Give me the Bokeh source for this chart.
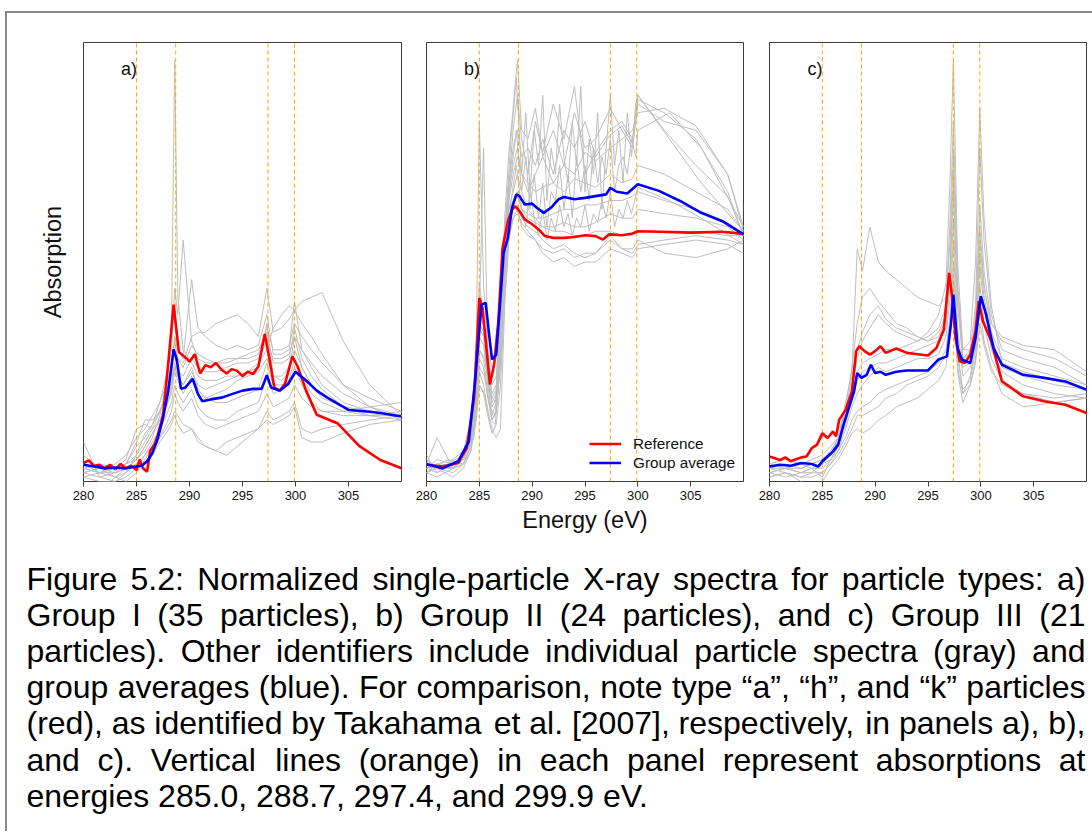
from bokeh.plotting import figure
from bokeh.layouts import row, column
from bokeh.models import Range1d, FixedTicker, Label, Legend, LegendItem, ColumnDataSource
from bokeh.embed import file_html
from bokeh.resources import INLINE
from bokeh.core.properties import value

FONT = "Liberation Sans"

# ---------------- texts / ticks ----------------
X_TICKS = [280, 285, 290, 295, 300, 305]
X_TICK_LABELS = ["280", "285", "290", "295", "300", "305"]
ABSORPTION_EV = [285.0, 288.7, 297.4, 299.9]
PANEL_LABELS = ["a)", "b)", "c)"]
LEGEND_LABELS = ["Reference", "Group average"]
Y_LABEL = "Absorption"
X_LABEL = "Energy (eV)"
CAPTION_LINES = [
    "Figure 5.2: Normalized single-particle X-ray spectra for particle types: a)",
    "Group I (35 particles), b) Group II (24 particles), and c) Group III (21",
    "particles). Other identifiers include individual particle spectra (gray) and",
    "group averages (blue). For comparison, note type \u201ca\u201d, \u201ch\u201d, and \u201ck\u201d particles",
    "(red), as identified by Takahama et al. [2007], respectively, in panels a), b),",
    "and c). Vertical lines (orange) in each panel represent absorptions at",
    "energies 285.0, 288.7, 297.4, and 299.9 eV.",
]

# ---------------- panel a : Group I ----------------
energy_a = [280, 281.5, 283, 284, 285, 285.8, 286.5, 287.2, 287.8, 288.3, 288.6, 288.9, 289.4, 290.2, 290.8, 291.5,
            292.5, 293.5, 294.5, 295.5, 296.5, 297.3, 297.9, 298.7, 299.4, 299.9, 300.6, 301.5, 302.5, 304.5, 307, 310]
a_gray01 = [3, 2, 3, 4, 5, 7, 10, 15, 22, 35, 96, 42, 30, 27, 24, 23, 23, 24, 24, 25, 26, 36, 24, 23, 25, 33, 26, 22, 20, 17, 16, 15]
a_gray02 = [2, 3, 2, 4, 8, 10, 13, 18, 24, 30, 44, 38, 55, 32, 28, 27, 27, 28, 28, 29, 30, 34, 27, 27, 28, 35, 28, 24, 21, 17, 15, 14]
a_gray03 = [4, 3, 4, 6, 10, 12, 15, 18, 22, 26, 33, 30, 28, 46, 35, 33, 31, 30, 31, 30, 31, 38, 29, 29, 30, 41, 30, 26, 22, 18, 16, 15]
a_gray04 = [3, 2, 3, 4, 6, 9, 12, 16, 20, 25, 30, 28, 27, 33, 34, 34, 36, 37, 38, 36, 33, 44, 34, 35, 37, 39, 36, 33, 29, 22, 17, 14]
a_gray05 = [1, 2, 1, 3, 5, 8, 11, 14, 18, 22, 26, 24, 22, 25, 22, 21, 22, 23, 24, 25, 27, 30, 35, 38, 40, 39, 41, 42, 43, 32, 22, 15]
a_gray06 = [6, 3, 1, 0, 2, 5, 8, 10, 12, 14, 16, 15, 13, 12, 10, 8, 7, 9, 10, 11, 12, 14, 13, 14, 15, 17, 10, 9, 9, 11, 13, 14]
a_gray07 = [2, 1, 2, 3, 4, 6, 9, 12, 15, 18, 22, 20, 18, 21, 17, 15, 14, 14, 16, 17, 18, 24, 20, 21, 22, 26, 22, 18, 16, 15, 15, 16]
a_gray08 = [3, 4, 3, 5, 12, 13, 12, 14, 17, 20, 25, 23, 20, 24, 20, 19, 18, 18, 19, 20, 21, 27, 22, 22, 23, 28, 24, 20, 18, 16, 15, 15]
a_gray09 = [9, 1, 0, 2, 6, 11, 13, 16, 19, 23, 27, 25, 24, 28, 26, 25, 25, 26, 27, 27, 28, 32, 28, 28, 29, 33, 30, 27, 24, 20, 17, 15]
a_gray10 = [1, 0, 0, 1, 3, 6, 8, 10, 13, 16, 20, 18, 16, 19, 15, 13, 12, 13, 14, 15, 16, 20, 17, 18, 19, 22, 19, 17, 16, 16, 17, 18]
a_gray11 = [2, 3, 3, 4, 9, 14, 14, 16, 20, 24, 32, 28, 26, 31, 29, 28, 27, 27, 28, 28, 29, 35, 30, 30, 31, 36, 33, 30, 27, 22, 19, 16]
a_gray12 = [4, 2, 2, 3, 5, 8, 11, 14, 17, 21, 26, 24, 22, 26, 21, 19, 20, 21, 23, 24, 25, 28, 24, 24, 26, 30, 26, 22, 19, 17, 16, 15]
a_gray13 = [0, -2, 1, 2, 4, 3, 6, 9, 11, 13, 15, 13, 11, 12, 9, 8, 7, 6, 8, 10, 12, 16, 14, 15, 16, 18, 12, 11, 12, 13, 14, 15]

red_a_energy = [280, 280.5, 281, 281.5, 282, 282.5, 283, 283.5, 284, 284.5, 285, 285.3, 285.6, 286, 286.3, 286.7, 287,
                287.5, 288, 288.5, 289, 289.5, 290, 290.5, 291, 291.5, 292, 292.5, 293, 293.5, 294, 294.5, 295, 295.5,
                296, 296.5, 297.1, 297.5, 298, 298.5, 299, 299.7, 300.2, 301, 302, 304, 306, 308, 310]
red_a = [4.2, 4.8, 3.5, 3.8, 3.0, 3.8, 2.8, 4.0, 3.0, 3.6, 2.6, 5.0, 3.0, 2.2, 7.0, 8.5, 10.5, 15.0, 27.0, 40.3,
         29.5, 28.5, 27.3, 29.0, 24.6, 26.5, 26.0, 27.0, 25.5, 24.6, 25.6, 25.2, 24.0, 25.0, 24.5, 26.2, 33.6, 28.5,
         21.4, 20.7, 22.2, 28.5, 26.2, 20.7, 15.2, 13.2, 8.1, 4.9, 3.0]
blue_a_energy = [280, 281, 282, 283, 284, 285, 285.5, 286, 286.5, 287, 287.5, 288, 288.5, 288.8, 289.2, 289.6, 290.3,
                 290.8, 291.2, 292, 293, 294, 295, 296, 296.8, 297.3, 297.7, 298.5, 299.3, 300, 301, 302, 303, 305,
                 307, 308, 310]
blue_a = [3.8, 3.4, 3.0, 3.2, 3.0, 3.4, 3.6, 4.6, 6.5, 9.7, 14.4, 20.7, 30.1, 27.7, 21.1, 21.4, 23.4, 19.9, 18.3,
          18.7, 19.1, 19.9, 20.7, 21.1, 21.1, 24.2, 21.4, 20.7, 22.2, 25.0, 23.0, 20.7, 19.1, 16.3, 15.9, 15.6, 14.8]

# ---------------- panel b : Group II ----------------
energy_b = [280, 281, 282.5, 283.5, 284.2, 284.7, 285.0, 285.4, 285.8, 286.2, 286.6, 287.0, 287.4, 287.8, 288.2, 288.6,
            289.0, 289.6, 290.3, 291.0, 292.0, 293.0, 294.0, 295.0, 296.0, 297.4, 298.5, 299.5, 300.0, 302.5, 305.5,
            308.5, 310]
b_gray01 = [4, 10, 3, 5, 12, 30, 82, 45, 30, 26, 28, 42, 55, 62, 66, 70, 66, 62, 60, 58, 57, 57, 56, 56, 57, 57, 56, 56, 57, 57, 57, 56, 56]
b_gray02 = [3, 5, 4, 6, 10, 25, 40, 35, 25, 18, 20, 35, 60, 75, 85, 96, 80, 78, 85, 74, 80, 72, 84, 76, 78, 85, 80, 76, 86, 82, 80, 70, 58]
b_gray03 = [5, 3, 2, 4, 8, 20, 35, 33, 22, 15, 18, 30, 50, 68, 80, 88, 78, 70, 82, 75, 86, 78, 90, 70, 75, 80, 82, 78, 88, 80, 72, 65, 56]
b_gray04 = [2, 4, 5, 7, 14, 28, 45, 38, 28, 20, 22, 40, 58, 66, 72, 76, 70, 66, 70, 74, 68, 72, 70, 75, 73, 76, 78, 80, 84, 85, 81, 70, 57]
b_gray05 = [3, 2, 4, 5, 9, 22, 38, 76, 30, 22, 24, 38, 55, 62, 64, 66, 62, 61, 60, 60, 61, 62, 62, 63, 63, 64, 64, 65, 66, 64, 62, 59, 56]
b_gray06 = [4, 3, 3, 4, 8, 18, 30, 28, 20, 14, 16, 26, 45, 58, 62, 63, 60, 58, 57, 55, 53, 54, 52, 51, 52, 56, 53, 52, 54, 55, 56, 55, 54]
b_gray07 = [6, 2, 4, 5, 10, 15, 25, 22, 16, 12, 10, 12, 40, 55, 60, 61, 59, 57, 55, 52, 50, 51, 49, 50, 50, 53, 52, 51, 53, 54, 55, 54, 52]
b_gray08 = [2, 3, 1, 3, 7, 16, 28, 26, 19, 14, 16, 28, 50, 64, 70, 74, 70, 68, 66, 67, 68, 66, 69, 68, 67, 70, 68, 69, 72, 70, 66, 62, 57]
b_gray09 = [3, 4, 3, 6, 11, 24, 36, 34, 26, 19, 21, 36, 54, 68, 76, 80, 74, 76, 72, 78, 70, 80, 76, 82, 74, 79, 81, 77, 87, 84, 78, 66, 56]
b_gray10 = [5, 3, 3, 5, 9, 20, 33, 31, 24, 17, 19, 32, 52, 60, 63, 65, 62, 60, 59, 58, 58, 59, 58, 58, 59, 61, 60, 60, 62, 61, 60, 58, 55]
b_gray11 = [2, 1, 3, 4, 7, 14, 22, 20, 15, 11, 13, 22, 42, 56, 60, 62, 58, 56, 55, 53, 52, 53, 51, 52, 52, 55, 53, 53, 55, 52, 51, 53, 55]

energy_b_noisy = [280, 282, 283.5, 284.5, 285, 285.5, 286, 286.5, 287, 287.5, 288, 288.5, 289, 289.4, 289.8, 290.2,
                  290.6, 291, 291.4, 291.8, 292.2, 292.6, 293, 293.4, 293.8, 294.2, 294.6, 295, 295.4, 295.8, 296.2,
                  296.6, 297, 297.4, 297.8, 298.2, 298.6, 299, 299.4, 299.8, 300, 303, 306, 310]
b_noisy1 = [3, 4, 6, 15, 30, 28, 20, 18, 35, 60, 78, 92, 70, 84, 66, 80, 72, 88, 64, 76, 70, 86, 74, 68, 82, 72, 90,
            66, 78, 70, 84, 62, 76, 88, 72, 80, 68, 84, 74, 86, 88, 78, 68, 57]
b_noisy2 = [4, 3, 5, 12, 26, 24, 17, 15, 30, 55, 70, 80, 66, 74, 62, 70, 60, 68, 58, 66, 64, 72, 62, 70, 60, 74, 66,
            72, 64, 76, 68, 74, 70, 78, 66, 72, 74, 70, 78, 74, 80, 84, 76, 58]
b_noisy3 = [2, 5, 4, 10, 22, 20, 14, 13, 28, 50, 64, 72, 62, 58, 66, 60, 56, 62, 55, 60, 57, 63, 58, 61, 56, 60, 58,
            63, 57, 61, 59, 64, 60, 66, 58, 62, 60, 64, 61, 65, 67, 64, 60, 54]

red_b_energy = [280, 281.5, 283, 283.8, 284.5, 285, 285.3, 285.7, 286, 286.4, 286.8, 287.2, 287.7, 288.1, 288.4, 288.8,
                289.3, 290, 290.8, 291.2, 292, 293, 294, 295, 296, 296.7, 297.3, 298.5, 299.5, 300, 302, 305, 308, 310]
red_b = [3.8, 3.4, 4.2, 7.6, 19.0, 41.8, 39.5, 29.7, 22.1, 26.6, 36.5, 53.2, 59.3, 62.0, 62.7, 61.6, 59.7, 58.6, 57.0,
         55.9, 55.5, 55.5, 55.7, 56.1, 55.9, 55.1, 56.3, 56.1, 56.5, 57.0, 56.9, 56.7, 56.9, 56.4]
blue_b_energy = [280, 281.5, 283, 284, 284.6, 285.2, 285.6, 286, 286.2, 286.6, 287, 287.3, 287.7, 288.1, 288.5, 288.8,
                 289.3, 290, 290.4, 291.1, 291.8, 292.5, 293, 294, 295, 296, 297, 297.4, 298, 299, 300, 302, 304, 306,
                 308, 310]
blue_b = [4.0, 3.0, 4.6, 9.1, 22.8, 40.3, 40.7, 31.9, 27.8, 28.9, 41.8, 52.1, 55.5, 62.4, 65.4, 65.0, 63.1, 63.3, 62.4,
          61.2, 62.4, 64.3, 64.8, 64.3, 64.6, 65.0, 65.4, 66.9, 66.0, 65.6, 67.7, 66.2, 63.9, 61.2, 59.3, 56.3]

# ---------------- panel c : Group III ----------------
energy_c = [280, 281.5, 283, 284, 285, 285.8, 286.5, 287.2, 287.8, 288.3, 288.8, 289.5, 290.3, 291, 292, 293, 294, 295,
            296, 296.7, 297.1, 297.4, 297.8, 298.3, 299, 299.5, 299.9, 300.3, 301, 302, 304, 307, 310]
c_gray01 = [3, 4, 3, 4, 5, 7, 9, 14, 20, 25, 27, 28, 29, 30, 30, 31, 32, 34, 38, 45, 70, 96, 50, 30, 32, 50, 85, 60, 40, 27, 25, 23, 21]
c_gray02 = [4, 3, 2, 3, 4, 6, 10, 18, 25, 53, 48, 58, 50, 48, 46, 44, 42, 41, 40, 42, 55, 75, 45, 28, 30, 40, 76, 55, 38, 30, 28, 26, 22]
c_gray03 = [2, 3, 4, 3, 1, 5, 8, 15, 22, 28, 32, 35, 38, 36, 34, 33, 32, 33, 35, 40, 60, 82, 45, 26, 27, 38, 58, 45, 34, 28, 26, 24, 22]
c_gray04 = [3, 2, 1, 2, 2, 4, 7, 12, 17, 20, 22, 24, 26, 25, 26, 27, 28, 28, 29, 33, 42, 55, 30, 20, 24, 32, 49, 40, 30, 25, 22, 20, 19]
c_gray05 = [1, 2, 0, -2, 0, 3, 5, 8, 11, 12, 11, 12, 14, 15, 17, 18, 19, 21, 23, 26, 35, 46, 25, 18, 22, 28, 40, 32, 26, 20, 17, 18, 19]
c_gray06 = [4, 5, 4, 5, 6, 8, 10, 16, 24, 30, 34, 38, 40, 37, 35, 34, 33, 32, 34, 38, 50, 70, 42, 30, 30, 36, 63, 48, 36, 32, 30, 28, 24]
c_gray07 = [2, 1, 2, 3, 3, 5, 8, 13, 19, 23, 25, 26, 27, 27, 28, 29, 30, 31, 32, 35, 45, 60, 35, 24, 26, 33, 52, 42, 33, 26, 24, 22, 21]
c_gray08 = [3, 3, 2, 2, 4, 5, 7, 10, 14, 16, 17, 18, 20, 21, 22, 23, 24, 25, 27, 30, 38, 50, 28, 21, 23, 30, 45, 36, 28, 23, 20, 18, 19]
c_gray09 = [2, 3, 3, 4, 5, 7, 10, 17, 26, 36, 42, 44, 41, 39, 36, 35, 33, 32, 33, 37, 48, 66, 40, 28, 29, 36, 55, 44, 36, 33, 31, 30, 25]
c_gray10 = [1, 2, 1, 1, 2, 4, 6, 9, 12, 15, 15, 16, 17, 19, 20, 22, 23, 24, 26, 29, 35, 42, 26, 20, 22, 27, 36, 31, 25, 22, 20, 19, 20]

red_c_energy = [280, 281, 281.5, 282, 283, 283.5, 284, 284.5, 285, 285.5, 286, 286.3, 286.6, 287.2, 287.8, 288.2, 288.5,
                289, 289.5, 290, 290.5, 291, 292, 293, 294, 295, 295.8, 296.5, 297, 297.3, 297.6, 298, 298.5, 299,
                299.5, 299.8, 300.2, 301, 302, 304, 306, 308, 310]
red_c = [5.7, 4.9, 5.5, 4.6, 5.5, 5.7, 7.6, 8.4, 11.0, 9.9, 11.4, 10.3, 14.1, 16.3, 20.5, 29.7, 30.8, 29.7, 28.9, 29.7,
         30.8, 29.3, 30.3, 29.3, 29.0, 28.7, 30.4, 34.6, 47.5, 41.8, 32.7, 27.4, 27.0, 28.9, 34.2, 41.1, 36.5, 31.9,
         22.8, 19.4, 18.3, 17.5, 15.6]
blue_c_energy = [280, 281, 282, 283, 284, 284.6, 285, 285.5, 286, 286.5, 287, 287.5, 288, 288.3, 288.7, 289.2, 289.6,
                 290, 290.5, 291, 292, 293, 294, 295, 296, 296.8, 297.2, 297.4, 297.8, 298.2, 299, 299.5, 300, 300.5,
                 301.2, 302, 304, 306, 308, 310]
blue_c = [3.4, 3.8, 3.6, 4.2, 4.0, 3.4, 4.6, 5.7, 6.8, 8.4, 12.9, 16.7, 20.5, 24.7, 23.6, 24.3, 26.6, 24.7, 25.0, 24.3,
          25.0, 25.3, 25.3, 25.3, 27.8, 28.5, 36.5, 42.6, 30.4, 27.8, 27.0, 32.7, 42.2, 38.0, 30.4, 26.6, 24.3, 23.6,
          22.8, 20.9]

# ---------------- style / layout ----------------
GRAY = "#BEBEBE"
RED = "#FF0000"
BLUE = "#0000FF"
ORANGE = "#FFA500"
BOX = "#3c3c3c"
Y_MIN, Y_MAX = 0, 100
X_MIN, X_MAX = 280, 310
PANEL_H = 528
TOP_B, BOT_B = 29, 60


def make_panel(gray_pairs, e_red, v_red, e_blue, v_blue, label, width, b_left, b_right,
               ylabel=False, xlabel=False, legend=False):
    p = figure(width=width, height=PANEL_H, x_range=Range1d(X_MIN, X_MAX), y_range=Range1d(Y_MIN, Y_MAX),
               output_backend="svg", toolbar_location=None,
               y_axis_location="left" if ylabel else None,
               min_border_left=b_left, min_border_right=b_right,
               min_border_top=TOP_B, min_border_bottom=BOT_B)
    p.xgrid.visible = False
    p.ygrid.visible = False
    p.outline_line_color = BOX
    p.outline_line_width = 1
    p.background_fill_color = "white"
    p.border_fill_color = "white"

    for e, g in gray_pairs:
        p.line(e, g, line_color=GRAY, line_width=1)

    vsrc = ColumnDataSource(dict(x0=ABSORPTION_EV, x1=ABSORPTION_EV,
                                 y0=[Y_MIN] * len(ABSORPTION_EV), y1=[Y_MAX] * len(ABSORPTION_EV)))
    p.segment(x0="x0", y0="y0", x1="x1", y1="y1", source=vsrc, line_color=ORANGE, line_width=1,
              line_dash="4 3")

    r_red = p.line(e_red, v_red, line_color=RED, line_width=2.6)
    r_blue = p.line(e_blue, v_blue, line_color=BLUE, line_width=2.6)

    ax = p.xaxis[0]
    ax.ticker = FixedTicker(ticks=X_TICKS)
    ax.major_label_overrides = {t: s for t, s in zip(X_TICKS, X_TICK_LABELS)}
    ax.axis_line_color = None
    ax.major_tick_line_color = BOX
    ax.major_tick_out = 5
    ax.major_tick_in = 0
    ax.minor_tick_line_color = None
    ax.major_label_text_font = FONT
    ax.major_label_text_font_size = "13px"
    ax.major_label_text_color = "#111111"
    ax.major_label_standoff = 4
    if xlabel:
        ax.axis_label = X_LABEL
        ax.axis_label_text_font = FONT
        ax.axis_label_text_font_size = "23.5px"
        ax.axis_label_text_font_style = "normal"
        ax.axis_label_text_color = "#111111"
        ax.axis_label_standoff = 4

    if ylabel:
        ay = p.yaxis[0]
        ay.ticker = FixedTicker(ticks=[])
        ay.axis_line_color = None
        ay.major_tick_line_color = None
        ay.minor_tick_line_color = None
        ay.major_tick_out = 0
        ay.major_label_standoff = 0
        ay.axis_label = Y_LABEL
        ay.axis_label_text_font = FONT
        ay.axis_label_text_font_size = "23.5px"
        ay.axis_label_text_font_style = "normal"
        ay.axis_label_text_color = "#111111"
        ay.axis_label_standoff = 18

    p.add_layout(Label(x=284.3, y=94, text=label, text_font=FONT, text_font_size="18px",
                       text_align="center", text_baseline="middle", text_color="#111111"))

    if legend:
        lg = Legend(items=[LegendItem(label=LEGEND_LABELS[0], renderers=[r_red]),
                           LegendItem(label=LEGEND_LABELS[1], renderers=[r_blue])],
                    location=(163, 9), border_line_color=None, background_fill_alpha=0,
                    label_text_font=FONT, label_text_font_size="15.3px", label_text_color="#111111",
                    glyph_width=32, glyph_height=19, label_height=19, spacing=0, padding=0, margin=0,
                    label_standoff=12)
        p.add_layout(lg)
    return p


gray_a = [(energy_a, g) for g in [a_gray01, a_gray02, a_gray03, a_gray04, a_gray05, a_gray06, a_gray07, a_gray08,
                                  a_gray09, a_gray10, a_gray11, a_gray12, a_gray13]]
gray_b = [(energy_b, g) for g in [b_gray01, b_gray02, b_gray03, b_gray04, b_gray05, b_gray06, b_gray07, b_gray08,
                                  b_gray09, b_gray10, b_gray11]]
gray_b += [(energy_b_noisy, g) for g in [b_noisy1, b_noisy2, b_noisy3]]
gray_c = [(energy_c, g) for g in [c_gray01, c_gray02, c_gray03, c_gray04, c_gray05, c_gray06, c_gray07, c_gray08,
                                  c_gray09, c_gray10]]

pa = make_panel(gray_a, red_a_energy, red_a, blue_a_energy, blue_a, PANEL_LABELS[0], 406, 76, 12, ylabel=True)
pb = make_panel(gray_b, red_b_energy, red_b, blue_b_energy, blue_b, PANEL_LABELS[1], 343, 13, 13,
                xlabel=True, legend=True)
pc = make_panel(gray_c, red_c_energy, red_c, blue_c_energy, blue_c, PANEL_LABELS[2], 336, 13, 6)

# ---------------- caption (justified, word by word) ----------------
CHAR_W = {" ": 278, ".": 278, ",": 278, ":": 278, ";": 278, "-": 333, "(": 333, ")": 333, "[": 278, "]": 278,
          "\u201c": 333, "\u201d": 333, "\"": 355, "'": 191}
for ch, w in zip("abcdefghijklmnopqrstuvwxyz",
                 [556, 556, 500, 556, 556, 278, 556, 556, 222, 222, 500, 222, 833, 556, 556, 556, 556, 333, 500, 278,
                  556, 500, 722, 500, 500, 500]):
    CHAR_W[ch] = w
for ch, w in zip("ABCDEFGHIJKLMNOPQRSTUVWXYZ",
                 [667, 667, 722, 722, 667, 611, 778, 722, 278, 500, 667, 556, 833, 722, 778, 667, 778, 722, 667, 611,
                  722, 667, 944, 667, 667, 611]):
    CHAR_W[ch] = w
for ch in "0123456789":
    CHAR_W[ch] = 556

CAP_FS = 32
CAP_L, CAP_R = 26, 1085
CAP_Y0, CAP_DY = 578, 36.2
CAP_TOP = 541
CAP_H = 290


def tw(s):
    return sum(CHAR_W.get(c, 556) for c in s) * CAP_FS / 1000.0


cap = figure(width=1085, height=CAP_H, x_range=Range1d(7, 1092), y_range=Range1d(CAP_TOP + CAP_H, CAP_TOP),
             x_axis_type=None, y_axis_type=None, output_backend="svg", toolbar_location=None,
             min_border=0, min_border_left=0, min_border_right=0, min_border_top=0, min_border_bottom=0)
cap.grid.visible = False
cap.outline_line_color = None
xs, ys, words = [], [], []
for i, line in enumerate(CAPTION_LINES):
    ws = line.split(" ")
    wd = [tw(w) for w in ws]
    if i < len(CAPTION_LINES) - 1:
        gap = (CAP_R - CAP_L - sum(wd)) / (len(ws) - 1)
    else:
        gap = CHAR_W[" "] * CAP_FS / 1000.0
    x = CAP_L
    for w, d in zip(ws, wd):
        xs.append(x)
        ys.append(CAP_Y0 + i * CAP_DY)
        words.append(w)
        x += d + gap
cap.text(x=xs, y=ys, text=words, text_font=value(FONT), text_font_size=f"{CAP_FS}px",
         text_align="left", text_baseline="middle", text_color="#000000")

layout = column(row(pa, pb, pc), cap, margin=(11, 0, 0, 5),
                styles={"border-top": "2px solid #8a8a8a", "border-left": "2px solid #8a8a8a"})

with open("out.html", "w") as f:
    f.write(file_html(layout, INLINE))
